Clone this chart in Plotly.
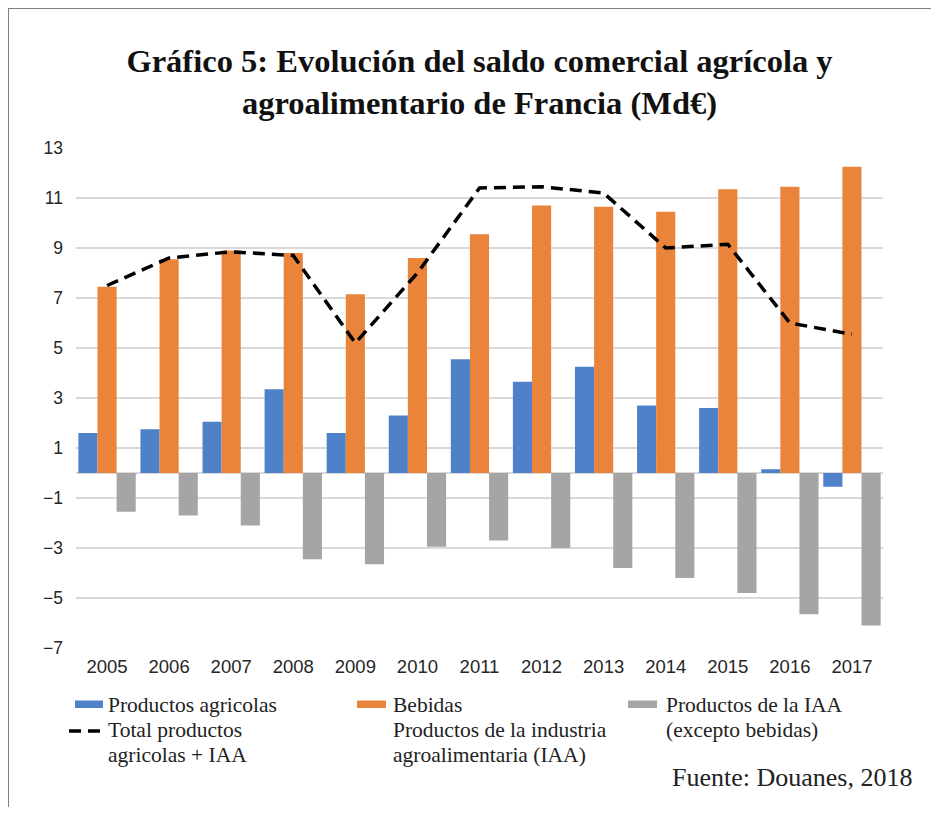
import plotly.graph_objects as go

# saldo comercial (Md€)
years = ["2005", "2006", "2007", "2008", "2009", "2010", "2011",
         "2012", "2013", "2014", "2015", "2016", "2017"]
agricolas = [1.6, 1.75, 2.05, 3.35, 1.6, 2.3, 4.55, 3.65, 4.25, 2.7, 2.6, 0.15, -0.55]
bebidas = [7.45, 8.55, 8.9, 8.8, 7.15, 8.6, 9.55, 10.7, 10.65, 10.45, 11.35, 11.45, 12.25]
iaa_sin_bebidas = [-1.55, -1.7, -2.1, -3.45, -3.65, -2.95, -2.7, -3.0, -3.8, -4.2, -4.8, -5.65, -6.1]
total = [7.5, 8.6, 8.85, 8.7, 5.2, 8.0, 11.4, 11.45, 11.2, 9.0, 9.15, 6.0, 5.55]
y_ticks = [13, 11, 9, 7, 5, 3, 1, -1, -3, -5, -7]

OFF = 8                  # the page body adds an 8px margin
W, H = 939 - 2 * OFF, 815 - 2 * OFF
L, R, T, B = 76, 883, 148, 648   # plot area, page pixels

BLUE = "#4F81C9"
ORANGE = "#E9843A"
GRAY = "#A5A5A5"
SERIF = "Liberation Serif, Times New Roman, serif"
SANS = "Liberation Sans, Arial, sans-serif"


def px(x):
    return (x - L) / (R - L)


def py(y):
    return (B - y) / (B - T)


fig = go.Figure()
fig.add_trace(go.Bar(x=years, y=agricolas, name="Productos agricolas",
                     marker=dict(color=BLUE, line=dict(width=0)), showlegend=False))
fig.add_trace(go.Bar(x=years, y=bebidas, name="Bebidas",
                     marker=dict(color=ORANGE, line=dict(width=0)), showlegend=False))
fig.add_trace(go.Bar(x=years, y=iaa_sin_bebidas, name="Productos de la IAA (excepto bebidas)",
                     marker=dict(color=GRAY, line=dict(width=0)), showlegend=False))
fig.add_trace(go.Scatter(x=years, y=total, mode="lines", name="Total productos agricolas + IAA",
                         line=dict(color="black", width=3.5, dash="12px,7px"), showlegend=False))

shapes = [
    # frame of the original picture (top and left edges only)
    dict(type="line", xref="paper", yref="paper", x0=px(7), x1=px(945), y0=py(8), y1=py(8),
         line=dict(color="#808080", width=2)),
    dict(type="line", xref="paper", yref="paper", x0=px(8), x1=px(8), y0=py(7), y1=py(812),
         line=dict(color="#808080", width=2)),
    # legend swatches
    dict(type="rect", xref="paper", yref="paper", x0=px(75), x1=px(103), y0=py(700.5), y1=py(708),
         fillcolor=BLUE, line=dict(width=0)),
    dict(type="rect", xref="paper", yref="paper", x0=px(357), x1=px(386), y0=py(700.5), y1=py(708),
         fillcolor=ORANGE, line=dict(width=0)),
    dict(type="rect", xref="paper", yref="paper", x0=px(628), x1=px(657), y0=py(700.5), y1=py(708),
         fillcolor=GRAY, line=dict(width=0)),
    dict(type="line", xref="paper", yref="paper", x0=px(69), x1=px(103), y0=py(731), y1=py(731),
         line=dict(color="black", width=3.5, dash="12px,7px")),
]

legend_lines = [
    (106, 705, "Productos agricolas"),
    (106, 730, "Total productos"),
    (106, 755, "agricolas + IAA"),
    (391, 705, "Bebidas"),
    (391, 730, "Productos de la industria"),
    (391, 755, "agroalimentaria (IAA)"),
    (664, 705, "Productos de la IAA"),
    (664, 730, "(excepto bebidas)"),
]
annotations = [
    dict(xref="paper", yref="paper", x=px(x), y=py(y), text=t, showarrow=False,
         xanchor="left", yanchor="middle", font=dict(family=SERIF, size=21.5, color="#222"))
    for x, y, t in legend_lines
]
annotations.append(dict(xref="paper", yref="paper", x=px(914), y=py(777),
                        text="Fuente: Douanes, 2018", showarrow=False,
                        xanchor="right", yanchor="middle",
                        font=dict(family=SERIF, size=26, color="#222")))

fig.update_layout(
    width=W, height=H,
    margin=dict(l=L - OFF, r=W - (R - OFF), t=T - OFF, b=H - (B - OFF)),
    paper_bgcolor="white", plot_bgcolor="white",
    barmode="group", bargap=0.076, bargroupgap=0,
    title=dict(text="Gráfico 5: Evolución del saldo comercial agrícola y<br>agroalimentario de Francia (Md€)",
               x=0.5, xref="paper", xanchor="center",
               y=1 - (72 - OFF) / H, yref="container", yanchor="middle",
               font=dict(family=SERIF, size=32.5, color="#111", weight="bold")),
    xaxis=dict(type="category", showgrid=False, showline=False, zeroline=False,
               ticks="", ticklabelstandoff=5,
               tickfont=dict(family=SANS, size=18.5, color="#262626")),
    yaxis=dict(range=[-7, 13], tickvals=y_ticks, showgrid=True, gridcolor="#D9D9D9", gridwidth=1.5,
               zeroline=True, zerolinecolor="#D9D9D9", zerolinewidth=1.5, showline=False,
               ticks="", ticklabelstandoff=12,
               tickfont=dict(family=SANS, size=17.5, color="#262626")),
    shapes=shapes,
    annotations=annotations,
)

fig.write_html("out.html")
